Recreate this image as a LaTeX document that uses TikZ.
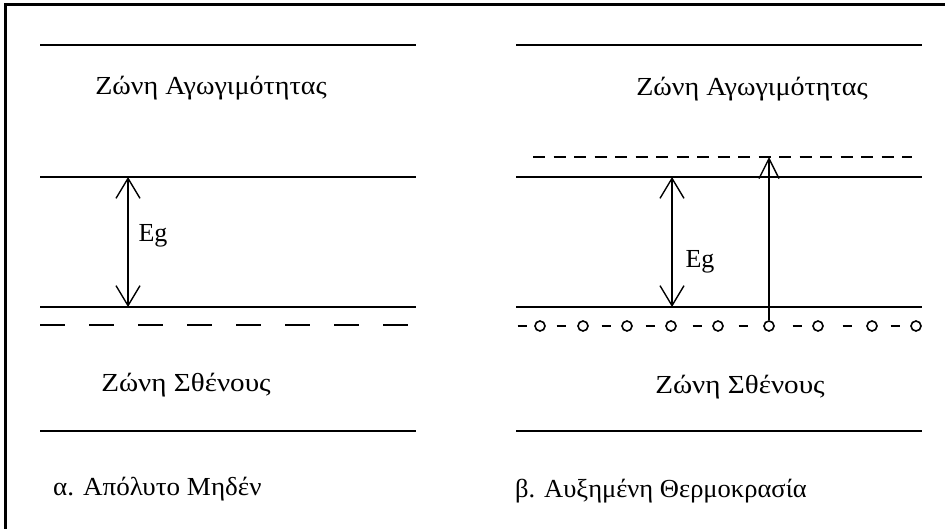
\documentclass[tikz,border=0pt]{standalone}
\usepackage{fontspec}
\setmainfont{Liberation Serif}
\usetikzlibrary{arrows.meta}
\newcommand{\wtxt}[2]{\scalebox{#1}[1]{#2}}
\begin{document}
\begin{tikzpicture}[x=1pt,y=-1pt,
  band/.style={line width=2pt},
  lbl/.style={inner sep=0pt, font=\fontsize{26}{30}\selectfont},
  egarrow/.style={line width=1.4pt, {Straight Barb[length=20pt,width=24pt,line width=1.4pt]}-{Straight Barb[length=20pt,width=24pt,line width=1.4pt]}},
  uparrow/.style={line width=1.4pt, -{Straight Barb[length=20pt,width=20pt,line width=1.4pt]}},
  hole/.style={circle, draw, line width=1.6pt, minimum size=10pt, inner sep=0pt}
]
\useasboundingbox (0,0) rectangle (945,529);
\fill[white] (0,0) rectangle (945,529);
\draw[line width=3pt] (5,529) -- (5,5) -- (945,5);

% left diagram
\coordinate (la1) at (40,45);  \coordinate (la2) at (416,45);
\coordinate (lb1) at (40,177); \coordinate (lb2) at (416,177);
\coordinate (lc1) at (40,307); \coordinate (lc2) at (416,307);
\coordinate (ld1) at (40,431); \coordinate (ld2) at (416,431);
\coordinate (le1) at (40,325); \coordinate (le2) at (416,325);
\draw[band] (la1) -- (la2);
\draw[band] (lb1) -- (lb2);
\draw[band] (lc1) -- (lc2);
\draw[band] (ld1) -- (ld2);
\draw[band, dash pattern=on 25pt off 24pt] (le1) -- (le2);
\coordinate (lt) at (128,177); \coordinate (lbot) at (128,307);
\draw[egarrow] (lbot) -- (lt);
\node[lbl] (lcond) at (211,88) {\wtxt{1.08}{Ζώνη Αγωγιμότητας}};
\node[lbl] (lval) at (186,385) {\wtxt{1.12}{Ζώνη Σθένους}};
\node[lbl] (leg) at (153,236) {Eg};
\node[lbl, anchor=west] (lcap) at (53,489) {\wtxt{1.04}{α. Απόλυτο Μηδέν}};

% right diagram
\coordinate (ra1) at (516,45);  \coordinate (ra2) at (922,45);
\coordinate (rb1) at (516,177); \coordinate (rb2) at (922,177);
\coordinate (rc1) at (516,307); \coordinate (rc2) at (922,307);
\coordinate (rd1) at (516,431); \coordinate (rd2) at (922,431);
\coordinate (rx1) at (533,157); \coordinate (rx2) at (912,157);
\draw[band] (ra1) -- (ra2);
\draw[band] (rb1) -- (rb2);
\draw[band] (rc1) -- (rc2);
\draw[band] (rd1) -- (rd2);
\draw[band, dash pattern=on 12pt off 8.5pt] (rx1) -- (rx2);
\foreach \x in {522,561,606,650,697,743,797,847,895}
  \draw[line width=2pt] (\x-4.5,326) -- (\x+4.5,326);
\foreach \x/\n in {540/h1,583/h2,627/h3,671/h4,718/h5,769/h6,818/h7,872/h8,916/h9}
  \node[hole] (\n) at (\x,326) {};
\coordinate (rt) at (672,177); \coordinate (rbot) at (672,307);
\draw[egarrow] (rbot) -- (rt);
\coordinate (rex) at (769,157);
\draw[uparrow] (h6.north) -- (rex);
\node[lbl] (rcond) at (752,89) {\wtxt{1.08}{Ζώνη Αγωγιμότητας}};
\node[lbl] (rval) at (740,387) {\wtxt{1.12}{Ζώνη Σθένους}};
\node[lbl] (reg) at (700,262) {Eg};
\node[lbl, anchor=west] (rcap) at (515,491) {\wtxt{1.02}{β. Αυξημένη Θερμοκρασία}};
\end{tikzpicture}
\end{document}
